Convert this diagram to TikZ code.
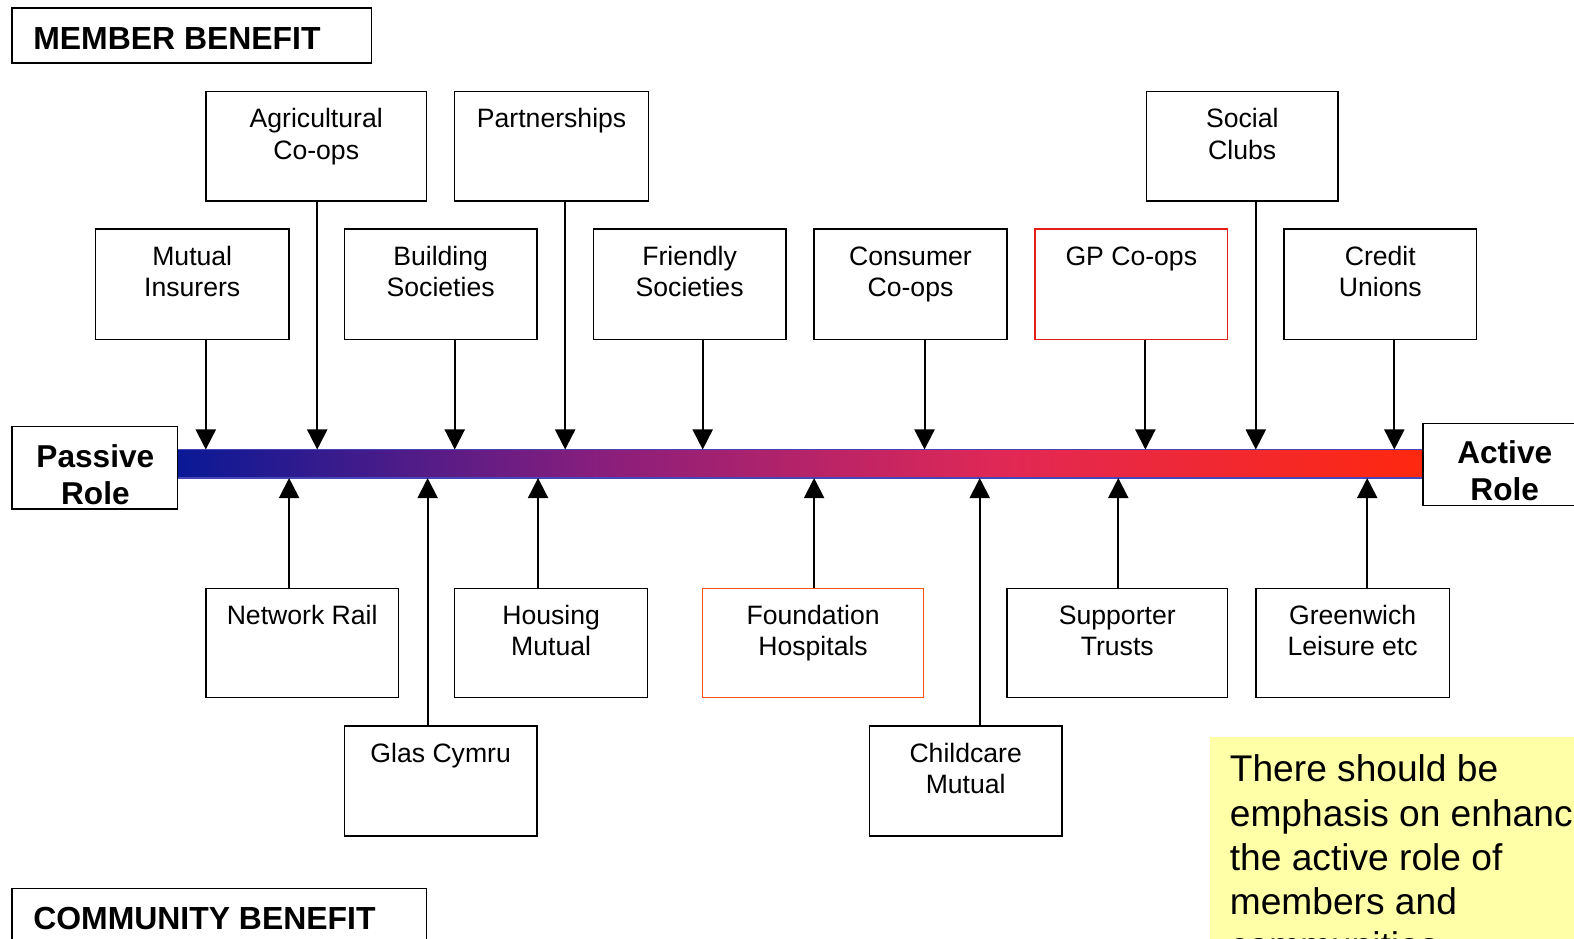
\documentclass[tikz,border=0pt]{standalone}
\usepackage{fontspec}
\setmainfont{Liberation Sans}
\usetikzlibrary{arrows.meta}

\definecolor{gpred}{RGB}{228,30,22}
\definecolor{fhorange}{RGB}{255,85,20}
\definecolor{noteyellow}{RGB}{255,255,168}
\definecolor{barA}{RGB}{10,25,150}
\definecolor{barB}{RGB}{135,30,125}
\definecolor{barC}{RGB}{225,40,85}
\definecolor{barD}{RGB}{255,40,15}
\definecolor{baredge}{RGB}{70,70,185}

\tikzset{
  box/.style={draw, line width=1.5pt, fill=white, inner sep=0pt},
  lbl/.style={font=\fontsize{26.5}{31}\selectfont, align=center, anchor=north, inner sep=0pt},
  rolelbl/.style={font=\bfseries\fontsize{31.5}{37}\selectfont, align=center, anchor=base, inner sep=0pt},
  headlbl/.style={font=\bfseries\fontsize{31.8}{36}\selectfont, anchor=base west, inner sep=0pt},
  arr/.style={line width=2pt, -{Triangle[width=20pt,length=20pt]}},
}

% \ubox[style]{name}{x1}{y1}{x2}{y2}{text}: box with its text set near the top;
% the strut fixes the first baseline 37pt below the top edge
\newcommand\ubox[7][]{%
  \node[box,#1,minimum width={(#5)-(#3)},minimum height={(#6)-(#4)}] (#2)
    at ({((#3)+(#5))/2},{((#4)+(#6))/2}) {};
  \node[lbl] (#2-t) at ([yshift=-12pt]#2.north) {\rule{0pt}{25pt}#7};}

\begin{document}
\begin{tikzpicture}[x=1pt,y=-1pt]
\useasboundingbox (0,0) rectangle (1568,935);
\clip (0,0) rectangle (1568,935);
\fill[white] (0,0) rectangle (1568,935);

% headers
\node[box,minimum width=358pt,minimum height=55pt] (mb) at (191,35.5) {};
\node[headlbl] (mb-t) at (33,49) {MEMBER BENEFIT};
\node[box,minimum width=413pt,minimum height=80pt] (cb) at (218.5,925) {};
\node[headlbl] (cb-t) at (33,926) {COMMUNITY BENEFIT};

% the passive-to-active bar
\node[minimum width=1239pt,minimum height=28pt,inner sep=0pt] (bar) at (797.5,462) {};
\fill[left color=barA,right color=barB] (178,448) rectangle (591,476);
\fill[left color=barB,right color=barC] (590,448) rectangle (1001,476);
\fill[left color=barC,right color=barD] (1000,448) rectangle (1417,476);
\draw[baredge,line width=1.2pt] (bar.north west) -- (bar.north east);
\draw[baredge,line width=1.2pt] (bar.south west) -- (bar.south east);

% role ends (anchored on the baseline of the last line)
\node[box,minimum width=165pt,minimum height=82pt] (pr) at (94.5,466) {};
\node[rolelbl] (pr-t) at (95,503) {Passive\\Role};
\node[box,minimum width=175pt,minimum height=82pt,anchor=north west] (ar) at (1417,421) {};
\node[rolelbl] (ar-t) at (1499,499) {Active\\Role};

% member benefit organisations
\ubox{ag}{205}{91}{425}{200}{Agricultural\\Co-ops}
\ubox{pa}{453}{91}{646}{200}{Partnerships}
\ubox{sc}{1142}{91}{1333}{200}{Social\\Clubs}
\ubox{mi}{95}{228}{288}{338}{Mutual\\Insurers}
\ubox{bs}{343}{228}{535}{338}{Building\\Societies}
\ubox{fs}{591}{228}{783}{338}{Friendly\\Societies}
\ubox{cc}{811}{228}{1003}{338}{Consumer\\Co-ops}
\ubox[draw=gpred]{gp}{1031}{228}{1223}{338}{GP Co-ops}
\ubox{cu}{1279}{228}{1471}{338}{Credit\\Unions}

% community benefit organisations
\ubox{nr}{205}{586}{397}{695}{Network Rail}
\ubox{hm}{453}{586}{645}{695}{Housing\\Mutual}
\ubox[draw=fhorange]{fh}{700}{586}{920}{695}{Foundation\\Hospitals}
\ubox{st}{1003}{586}{1223}{695}{Supporter\\Trusts}
\ubox{gl}{1251}{586}{1444}{695}{Greenwich\\Leisure etc}
\ubox{gc}{343}{723}{535}{833}{Glas Cymru}
\ubox{cm}{866}{723}{1058}{833}{Childcare\\Mutual}

% arrows onto the bar from above
\draw[arr] (mi.south -| 205,0) -- (bar.north -| 205,0);
\draw[arr] (ag.south -| 316,0) -- (bar.north -| 316,0);
\draw[arr] (bs.south -| 453,0) -- (bar.north -| 453,0);
\draw[arr] (pa.south -| 563,0) -- (bar.north -| 563,0);
\draw[arr] (fs.south -| 700,0) -- (bar.north -| 700,0);
\draw[arr] (cc.south -| 921,0) -- (bar.north -| 921,0);
\draw[arr] (gp.south -| 1141,0) -- (bar.north -| 1141,0);
\draw[arr] (sc.south -| 1251,0) -- (bar.north -| 1251,0);
\draw[arr] (cu.south -| 1389,0) -- (bar.north -| 1389,0);

% arrows onto the bar from below
\draw[arr] (nr.north -| 288,0) -- (bar.south -| 288,0);
\draw[arr] (gc.north -| 426,0) -- (bar.south -| 426,0);
\draw[arr] (hm.north -| 536,0) -- (bar.south -| 536,0);
\draw[arr] (fh.north -| 811,0) -- (bar.south -| 811,0);
\draw[arr] (cm.north -| 976,0) -- (bar.south -| 976,0);
\draw[arr] (st.north -| 1114,0) -- (bar.south -| 1114,0);
\draw[arr] (gl.north -| 1362,0) -- (bar.south -| 1362,0);

% note (anchored on the baseline of its last line)
\fill[noteyellow] (1205,734) rectangle (1600,1000);
\node[font=\fontsize{37}{44}\selectfont, align=left, anchor=base west, inner sep=0pt] (note)
  at (1225,955) {There should be\\emphasis on enhancing\\the active role of\\members and\\communities};
\end{tikzpicture}
\end{document}
